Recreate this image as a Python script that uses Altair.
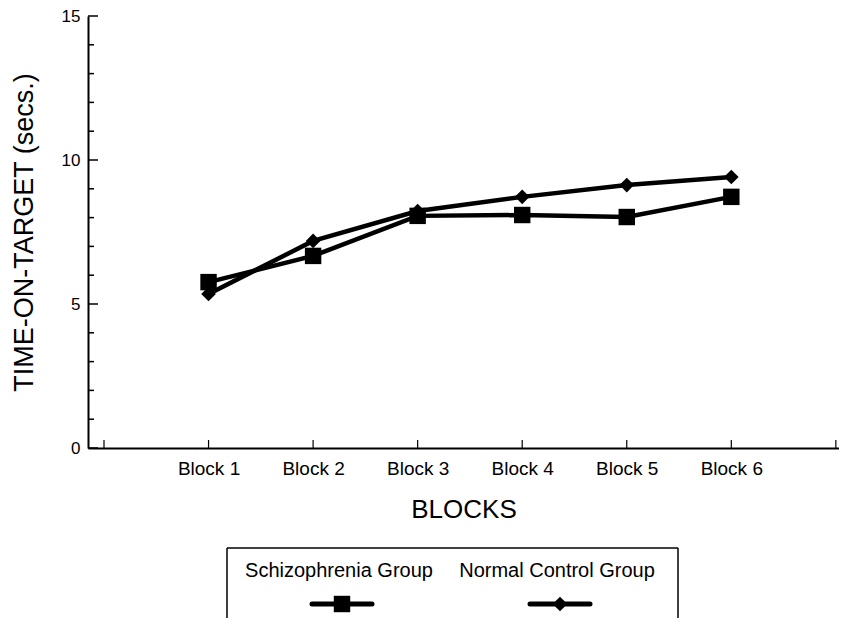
import altair as alt
import pandas as pd

# ---- data ----
blocks = [1, 2, 3, 4, 5, 6]
block_labels = ["Block 1", "Block 2", "Block 3", "Block 4", "Block 5", "Block 6"]
series = ["Schizophrenia Group", "Normal Control Group"]
schizophrenia = [5.76, 6.67, 8.06, 8.09, 8.02, 8.72]
normal_control = [5.35, 7.19, 8.23, 8.72, 9.13, 9.41]
y_major = [0, 5, 10, 15]
y_minor = [1, 2, 3, 4, 6, 7, 8, 9, 11, 12, 13, 14]
x_ticks = [0, 1, 2, 3, 4, 5, 6, 7]

FONT = "Liberation Sans"

df = pd.DataFrame({
    "block": blocks * 2,
    "value": schizophrenia + normal_control,
    "series": [series[0]] * len(blocks) + [series[1]] * len(blocks),
})
df_ymaj = pd.DataFrame({"value": y_major})
df_ymin = pd.DataFrame({"value": y_minor})
df_xt = pd.DataFrame({"block": x_ticks})
df_leg = pd.DataFrame({"series": series, "lx": [0, 1]})
one = pd.DataFrame({"a": [0]})

xscale = alt.Scale(domain=[-0.153, 7.03], nice=False, zero=False)
yscale = alt.Scale(domain=[0, 15], nice=False, zero=False)
shape_scale = alt.Scale(domain=series, range=["square", "diamond"])
size_scale = alt.Scale(domain=series, range=[270, 215])
leg_scale = alt.Scale(domain=[0, 1], range=[254, 472], nice=False, zero=False)

label_js = "[" + ",".join(["''"] + ["'%s'" % b for b in block_labels] + ["''"]) + "]"

x_axis = alt.Axis(
    values=blocks, labelExpr=label_js + "[datum.value]", ticks=False, grid=False,
    domainColor="black", domainWidth=2, labelFontSize=19, labelPadding=11,
    labelColor="black", labelFont=FONT, title="BLOCKS", titleFontSize=26,
    titleFont=FONT, titleFontWeight="normal", titleColor="black", titlePadding=18,
)
y_axis = alt.Axis(
    values=y_major, ticks=False, grid=False, domainColor="black", domainWidth=2,
    labelFontSize=17, labelPadding=8, labelColor="black", labelFont=FONT,
    title="TIME-ON-TARGET (secs.)", titleFontSize=27, titleFont=FONT,
    titleFontWeight="normal", titleColor="black", titlePadding=23,
)

lines = alt.Chart(df).mark_line(color="black", strokeWidth=4.5).encode(
    x=alt.X("block:Q", scale=xscale, axis=x_axis),
    y=alt.Y("value:Q", scale=yscale, axis=y_axis),
    detail="series:N",
)
points = alt.Chart(df).mark_point(filled=True, color="black", opacity=1).encode(
    x=alt.X("block:Q", scale=xscale, axis=None),
    y=alt.Y("value:Q", scale=yscale, axis=y_axis),
    shape=alt.Shape("series:N", scale=shape_scale, legend=None),
    size=alt.Size("series:N", scale=size_scale, legend=None),
)
ytick_major = alt.Chart(df_ymaj).mark_rule(color="black", strokeWidth=1.5).encode(
    x=alt.value(0), x2=alt.value(10),
    y=alt.Y("value:Q", scale=yscale, axis=y_axis),
)
ytick_minor = alt.Chart(df_ymin).mark_rule(color="black", strokeWidth=1.5).encode(
    x=alt.value(0), x2=alt.value(6),
    y=alt.Y("value:Q", scale=yscale, axis=y_axis),
)
xticks = alt.Chart(df_xt).mark_rule(color="black", strokeWidth=1.2).encode(
    x=alt.X("block:Q", scale=xscale, axis=None),
    y=alt.value(432), y2=alt.value(424),
)

# ---- custom legend (label above symbol, boxed) ----
box_top = alt.Chart(one).mark_rule(color="black", strokeWidth=1.5).encode(
    x=alt.value(139), x2=alt.value(590), y=alt.value(532))
box_left = alt.Chart(one).mark_rule(color="black", strokeWidth=1.5).encode(
    x=alt.value(139), y=alt.value(532), y2=alt.value(620))
box_right = alt.Chart(one).mark_rule(color="black", strokeWidth=1.5).encode(
    x=alt.value(590), y=alt.value(532), y2=alt.value(620))
leg_text = alt.Chart(df_leg).mark_text(
    fontSize=20, font=FONT, color="black", baseline="middle", align="center", dx=-3
).encode(
    x=alt.X("lx:Q", scale=leg_scale, axis=None),
    y=alt.value(555),
    text="series:N",
)
leg_line = alt.Chart(df_leg).mark_rule(
    color="black", strokeWidth=5, strokeCap="round", xOffset=-30, x2Offset=30
).encode(
    x=alt.X("lx:Q", scale=leg_scale, axis=None),
    x2="lx:Q",
    y=alt.value(588),
)
leg_pt = alt.Chart(df_leg).mark_point(filled=True, color="black", opacity=1).encode(
    x=alt.X("lx:Q", scale=leg_scale, axis=None),
    y=alt.value(588),
    shape=alt.Shape("series:N", scale=shape_scale, legend=None),
    size=alt.Size("series:N", scale=size_scale, legend=None),
)

chart = alt.layer(
    lines, points, ytick_major, ytick_minor, xticks,
    box_top, box_left, box_right, leg_line, leg_pt, leg_text,
).resolve_scale(x="independent").properties(
    width=751, height=432,
    autosize=alt.AutoSizeParams(type="none"),
    padding={"left": 80, "top": 8, "right": 0, "bottom": 170},
    background="white",
).configure_view(strokeWidth=0)

chart.save("out.html", embed_options={"renderer": "svg", "actions": False})
